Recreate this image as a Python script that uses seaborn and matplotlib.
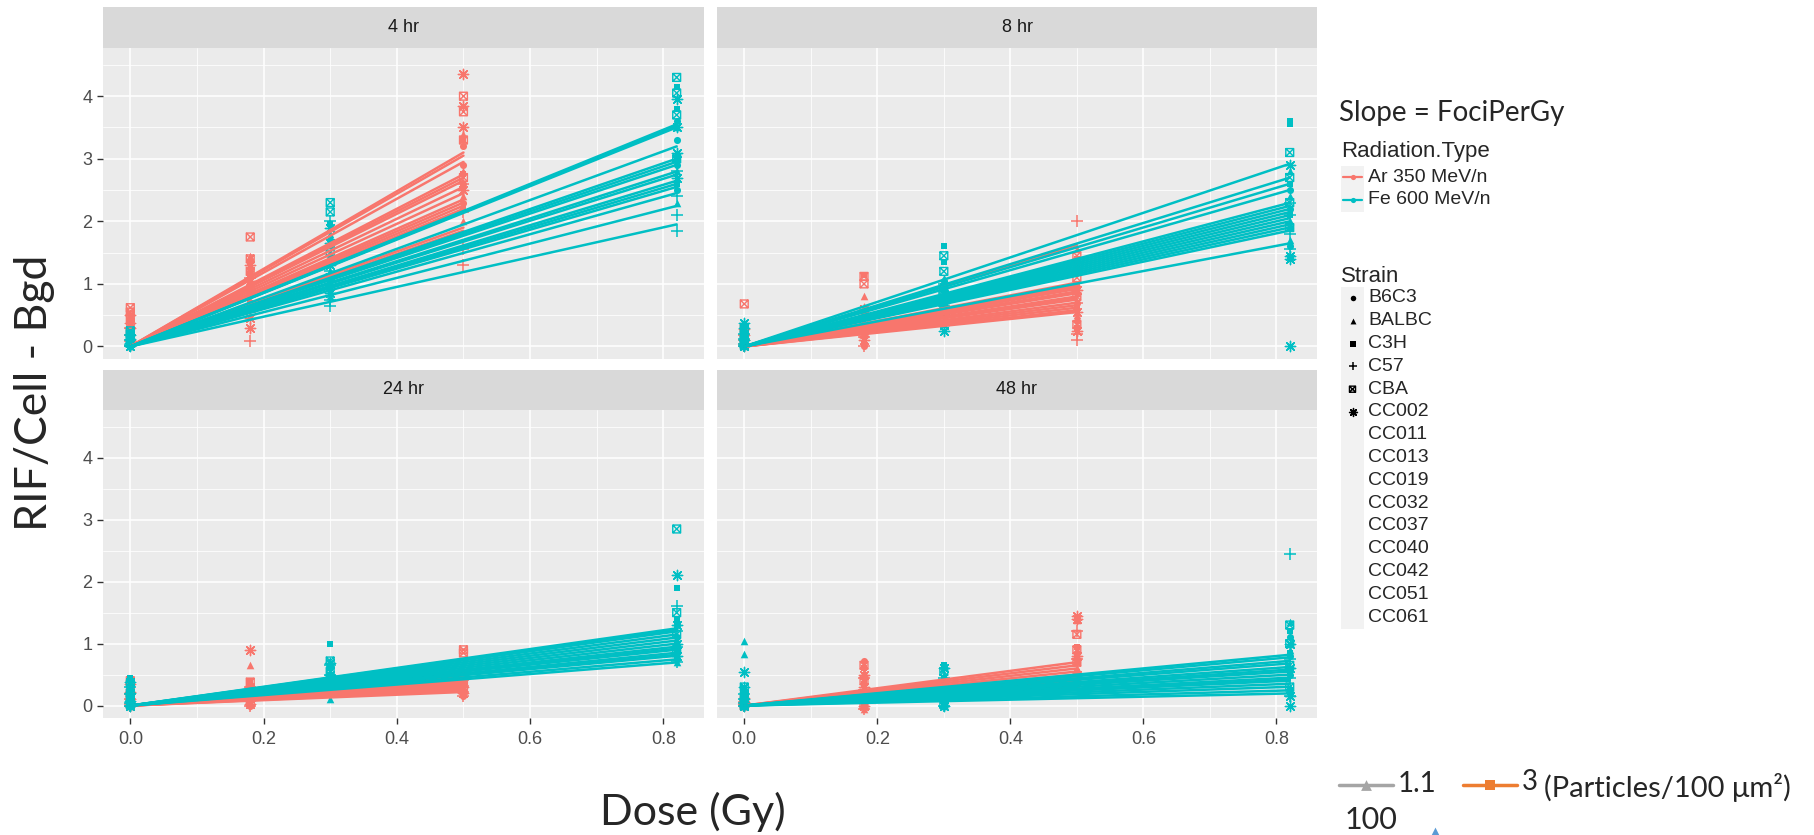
import numpy as np
import pandas as pd
import matplotlib.pyplot as plt
import seaborn as sns
from matplotlib.path import Path
from matplotlib.markers import MarkerStyle
from matplotlib.ticker import MultipleLocator
from matplotlib.patches import Rectangle

# facets, groups, doses
times = ["4 hr", "8 hr", "24 hr", "48 hr"]
radiations = ["Ar 350 MeV/n", "Fe 600 MeV/n"]
strains = ["B6C3", "BALBC", "C3H", "C57", "CBA", "CC002", "CC011", "CC013",
           "CC019", "CC032", "CC037", "CC040", "CC042", "CC051", "CC061"]
ar_doses = [0.0, 0.18, 0.5]
fe_doses = [0.0, 0.3, 0.82]
x_ticks = [0.0, 0.2, 0.4, 0.6, 0.8]
x_tick_labels = ["0.0", "0.2", "0.4", "0.6", "0.8"]
y_ticks = [0, 1, 2, 3, 4]

# fitted slope per strain (FociPerGy)
ar_slope_4hr = [6.2, 6.1, 5.9, 5.5, 5.4, 5.3, 5.1, 4.9, 4.7, 4.6, 4.5, 4.4, 4.3, 3.8, 3.7]
fe_slope_4hr = [4.33, 4.30, 4.27, 3.90, 3.66, 3.60, 3.54, 3.41, 3.35, 3.23, 3.17, 3.11, 2.99, 2.74, 2.38]
ar_slope_8hr = [3.24, 2.04, 1.96, 1.90, 1.84, 1.76, 1.70, 1.60, 1.56, 1.50, 1.40, 1.32, 1.24, 1.16, 1.10]
fe_slope_8hr = [3.56, 3.29, 3.17, 3.05, 2.80, 2.74, 2.68, 2.62, 2.56, 2.50, 2.44, 2.38, 2.32, 2.26, 2.01]
ar_slope_24hr = [1.10, 1.00, 0.96, 0.90, 0.84, 0.80, 0.76, 0.72, 0.68, 0.64, 0.60, 0.56, 0.52, 0.48, 0.44]
fe_slope_24hr = [1.52, 1.49, 1.46, 1.40, 1.34, 1.28, 1.22, 1.16, 1.12, 1.10, 1.04, 1.00, 0.98, 0.91, 0.85]
ar_slope_48hr = [1.40, 1.30, 1.20, 1.10, 1.00, 0.96, 0.90, 0.84, 0.80, 0.76, 0.72, 0.68, 0.64, 0.60, 0.56]
fe_slope_48hr = [1.00, 0.95, 0.88, 0.83, 0.76, 0.71, 0.67, 0.61, 0.55, 0.51, 0.49, 0.43, 0.37, 0.30, 0.24]

# RIF/Cell - Bgd for the six strains that get a shape: [strain][dose][replicate]
ar_rif_4hr = [
    [[0.05, 0.12, 0.2, 0.3], [0.85, 1.0, 1.2, 1.38], [2.3, 2.6, 2.9, 3.2]],
    [[0.0, 0.1, 0.22, 0.35], [0.75, 0.95, 1.3, 1.45], [2.0, 2.4, 2.8, 3.4]],
    [[0.02, 0.15, 0.28, 0.4], [0.7, 0.9, 1.15, 1.35], [2.2, 2.55, 2.75, 3.3]],
    [[0.0, 0.08, 0.18, 0.3], [0.08, 0.55, 0.8, 1.1], [1.3, 1.55, 2.15, 2.6]],
    [[0.2, 0.45, 0.55, 0.62], [0.9, 1.2, 1.4, 1.75], [2.7, 3.3, 3.75, 4.0]],
    [[0.1, 0.3, 0.38, 0.5], [0.3, 0.45, 1.05, 1.3], [2.5, 3.5, 3.85, 4.35]],
]
fe_rif_4hr = [
    [[0.0, 0.05, 0.1, 0.15], [0.9, 1.1, 1.4, 1.7], [2.5, 2.9, 3.3, 3.6]],
    [[0.0, 0.08, 0.12, 0.2], [0.8, 1.2, 1.5, 1.8], [2.3, 2.8, 3.1, 3.5]],
    [[0.0, 0.05, 0.15, 0.22], [1.0, 1.3, 1.6, 1.95], [2.6, 3.0, 3.8, 4.15]],
    [[0.0, 0.03, 0.1, 0.18], [0.65, 0.75, 1.2, 2.0], [1.85, 2.1, 2.4, 2.8]],
    [[0.05, 0.1, 0.2, 0.25], [1.1, 1.5, 2.15, 2.3], [3.0, 3.7, 4.05, 4.3]],
    [[0.0, 0.06, 0.12, 0.18], [0.85, 1.3, 1.65, 1.9], [2.7, 3.1, 3.5, 3.95]],
]
ar_rif_8hr = [
    [[0.0, 0.05, 0.12, 0.2], [0.0, 0.2, 0.35, 0.5], [0.4, 0.7, 0.95, 1.2]],
    [[0.02, 0.1, 0.2, 0.35], [0.1, 0.3, 0.55, 0.8], [0.5, 0.85, 1.2, 1.55]],
    [[0.0, 0.08, 0.15, 0.25], [0.05, 0.25, 0.45, 1.15], [0.3, 0.6, 1.0, 1.4]],
    [[0.0, 0.04, 0.1, 0.18], [0.0, 0.15, 0.3, 0.45], [0.1, 0.2, 0.7, 2.0]],
    [[0.05, 0.15, 0.3, 0.68], [0.2, 0.4, 1.0, 1.12], [0.35, 0.8, 1.1, 1.45]],
    [[0.0, 0.1, 0.18, 0.28], [0.1, 0.3, 0.5, 0.6], [0.25, 0.55, 0.9, 1.3]],
]
fe_rif_8hr = [
    [[0.0, 0.05, 0.1, 0.2], [0.5, 0.7, 0.9, 1.05], [1.6, 1.9, 2.2, 2.5]],
    [[0.0, 0.06, 0.15, 0.25], [0.55, 0.75, 0.95, 1.1], [1.7, 2.0, 2.4, 2.8]],
    [[0.0, 0.1, 0.2, 0.3], [0.6, 0.9, 1.35, 1.6], [2.1, 2.6, 3.55, 3.6]],
    [[0.0, 0.04, 0.12, 0.2], [0.5, 0.65, 0.85, 1.0], [1.55, 1.8, 2.1, 2.3]],
    [[0.02, 0.1, 0.18, 0.28], [0.6, 0.85, 1.2, 1.45], [1.9, 2.3, 2.7, 3.1]],
    [[0.0, 0.1, 0.3, 0.38], [0.25, 0.35, 0.7, 0.95], [0.0, 1.4, 1.45, 2.9]],
]
ar_rif_24hr = [
    [[0.0, 0.05, 0.1, 0.2], [0.0, 0.1, 0.2, 0.3], [0.15, 0.25, 0.35, 0.45]],
    [[0.0, 0.08, 0.15, 0.3], [0.05, 0.15, 0.35, 0.65], [0.2, 0.3, 0.4, 0.5]],
    [[0.0, 0.06, 0.12, 0.25], [0.0, 0.12, 0.25, 0.4], [0.18, 0.28, 0.38, 0.48]],
    [[0.0, 0.03, 0.1, 0.18], [0.0, 0.08, 0.18, 0.3], [0.15, 0.22, 0.32, 0.42]],
    [[0.02, 0.1, 0.2, 0.4], [0.05, 0.15, 0.25, 0.38], [0.25, 0.4, 0.85, 0.9]],
    [[0.0, 0.1, 0.22, 0.35], [0.02, 0.12, 0.3, 0.9], [0.2, 0.3, 0.45, 0.55]],
]
fe_rif_24hr = [
    [[0.0, 0.05, 0.15, 0.25], [0.2, 0.3, 0.45, 0.6], [0.75, 0.9, 1.1, 1.3]],
    [[0.0, 0.08, 0.2, 0.4], [0.1, 0.25, 0.4, 0.55], [0.7, 0.85, 1.05, 1.35]],
    [[0.0, 0.1, 0.25, 0.45], [0.3, 0.45, 0.6, 1.0], [0.8, 1.0, 1.4, 1.9]],
    [[0.0, 0.05, 0.18, 0.3], [0.2, 0.35, 0.5, 0.65], [0.7, 0.95, 1.2, 1.6]],
    [[0.02, 0.1, 0.2, 0.35], [0.25, 0.4, 0.55, 0.72], [0.9, 1.15, 1.5, 2.85]],
    [[0.0, 0.08, 0.2, 0.38], [0.2, 0.35, 0.5, 0.68], [0.8, 1.0, 1.3, 2.1]],
]
ar_rif_48hr = [
    [[0.0, 0.03, 0.06, 0.1], [0.0, 0.2, 0.45, 0.72], [0.35, 0.5, 0.7, 0.85]],
    [[0.0, 0.02, 0.05, 0.1], [-0.05, 0.1, 0.3, 0.55], [0.4, 0.6, 0.9, 1.38]],
    [[0.0, 0.02, 0.04, 0.08], [0.0, 0.15, 0.35, 0.6], [0.3, 0.55, 0.8, 0.95]],
    [[0.0, 0.01, 0.03, 0.06], [-0.05, 0.05, 0.25, 0.45], [0.35, 0.5, 0.75, 1.2]],
    [[0.0, 0.02, 0.05, 0.1], [0.0, 0.2, 0.4, 0.65], [0.45, 0.7, 0.9, 1.15]],
    [[0.0, 0.03, 0.06, 0.12], [0.0, 0.12, 0.3, 0.5], [0.5, 0.8, 1.4, 1.45]],
]
fe_rif_48hr = [
    [[0.0, 0.05, 0.12, 0.2], [0.0, 0.1, 0.25, 0.4], [0.2, 0.5, 0.8, 1.1]],
    [[0.0, 0.1, 0.83, 1.05], [0.0, 0.15, 0.3, 0.5], [0.3, 0.6, 0.9, 1.35]],
    [[0.0, 0.06, 0.15, 0.28], [0.05, 0.2, 0.45, 0.65], [0.25, 0.55, 0.85, 1.2]],
    [[0.0, 0.04, 0.1, 0.18], [0.0, 0.12, 0.28, 0.45], [0.15, 0.45, 0.75, 2.45]],
    [[0.0, 0.05, 0.15, 0.3], [0.02, 0.15, 0.35, 0.55], [0.3, 0.65, 1.0, 1.3]],
    [[0.0, 0.1, 0.3, 0.55], [0.0, 0.1, 0.2, 0.6], [0.0, 0.15, 0.6, 1.0]],
]

slopes = {
    ("4 hr", radiations[0]): ar_slope_4hr, ("4 hr", radiations[1]): fe_slope_4hr,
    ("8 hr", radiations[0]): ar_slope_8hr, ("8 hr", radiations[1]): fe_slope_8hr,
    ("24 hr", radiations[0]): ar_slope_24hr, ("24 hr", radiations[1]): fe_slope_24hr,
    ("48 hr", radiations[0]): ar_slope_48hr, ("48 hr", radiations[1]): fe_slope_48hr,
}
rif = {
    ("4 hr", radiations[0]): ar_rif_4hr, ("4 hr", radiations[1]): fe_rif_4hr,
    ("8 hr", radiations[0]): ar_rif_8hr, ("8 hr", radiations[1]): fe_rif_8hr,
    ("24 hr", radiations[0]): ar_rif_24hr, ("24 hr", radiations[1]): fe_rif_24hr,
    ("48 hr", radiations[0]): ar_rif_48hr, ("48 hr", radiations[1]): fe_rif_48hr,
}
doses = {radiations[0]: ar_doses, radiations[1]: fe_doses}

line_rows, pt_rows = [], []
for (t, rad), sl in slopes.items():
    for strain, k in zip(strains, sl):
        for d in doses[rad]:
            line_rows.append((t, rad, strain, d, k * d))
for (t, rad), per_strain in rif.items():
    for strain, per_dose in zip(strains, per_strain):
        for d, vals in zip(doses[rad], per_dose):
            for v in vals:
                pt_rows.append((t, rad, strain, d, v))
lines = pd.DataFrame(line_rows, columns=["time", "radiation", "strain", "dose", "fit"])
pts = pd.DataFrame(pt_rows, columns=["time", "radiation", "strain", "dose", "rif"])

pal = {radiations[0]: "#F8766D", radiations[1]: "#00BFC4"}

# ggplot-like shapes
box_x = Path([(-1, -1), (1, -1), (1, 1), (-1, 1), (-1, -1), (-1, -1), (1, 1), (-1, 1), (1, -1)],
             [Path.MOVETO, Path.LINETO, Path.LINETO, Path.LINETO, Path.CLOSEPOLY,
              Path.MOVETO, Path.LINETO, Path.MOVETO, Path.LINETO])
shape_kw = {
    "B6C3": dict(marker="o", s=26, linewidth=0),
    "BALBC": dict(marker="^", s=30, linewidth=0),
    "C3H": dict(marker="s", s=24, linewidth=0),
    "C57": dict(marker="+", s=65, linewidth=1.1),
    "CBA": dict(marker=MarkerStyle(box_x, fillstyle="none"), s=32, linewidth=1.0),
    "CC002": dict(marker=(8, 2, 0), s=55, linewidth=1.0),
}

sns.set_theme(style="darkgrid")
plt.rcParams["font.family"] = ["Liberation Sans", "DejaVu Sans"]

W, H = 1814, 835
fig = plt.figure(figsize=(W / 100, H / 100), dpi=100)
fig.patch.set_facecolor("white")


def box(l, t, r, b):
    return [l / W, 1 - b / H, (r - l) / W, (b - t) / H]


panel_px = {"4 hr": (103, 48, 704, 359), "8 hr": (717, 48, 1317, 359),
            "24 hr": (103, 410, 704, 718), "48 hr": (717, 410, 1317, 718)}
strip_px = {"4 hr": (103, 7, 704, 48), "8 hr": (717, 7, 1317, 48),
            "24 hr": (103, 370, 704, 410), "48 hr": (717, 370, 1317, 410)}

for i, t in enumerate(times):
    ax = fig.add_axes(box(*panel_px[t]))
    ax.set_facecolor("#EBEBEB")
    for rad in radiations:
        sub = pts[(pts.time == t) & (pts.radiation == rad)]
        for strain, kw in shape_kw.items():
            sns.scatterplot(data=sub[sub.strain == strain], x="dose", y="rif",
                            color=pal[rad], ax=ax, legend=False, **kw)
    sns.lineplot(data=lines[lines.time == t], x="dose", y="fit", hue="radiation",
                 hue_order=radiations, palette=pal, units="strain", estimator=None,
                 linewidth=1.8, legend=False, ax=ax)
    ax.set_xlim(-0.041, 0.861)
    ax.set_ylim(-0.2, 4.77)
    ax.set_xticks(x_ticks)
    ax.set_xticklabels(x_tick_labels)
    ax.set_yticks(y_ticks)
    ax.xaxis.set_minor_locator(MultipleLocator(0.1))
    ax.yaxis.set_minor_locator(MultipleLocator(0.5))
    ax.grid(True, which="major", color="white", linewidth=1.1)
    ax.grid(True, which="minor", color="white", linewidth=0.55)
    ax.set_axisbelow(True)
    for sp in ax.spines.values():
        sp.set_visible(False)
    ax.set_xlabel("")
    ax.set_ylabel("")
    bottom = i >= 2
    left = i % 2 == 0
    ax.tick_params(axis="x", which="major", bottom=bottom, labelbottom=bottom,
                   length=4.5, width=1, color="#333333", labelcolor="#4D4D4D",
                   labelsize=13, pad=5)
    ax.tick_params(axis="y", which="major", left=left, labelleft=left,
                   length=4.5, width=1, color="#333333", labelcolor="#4D4D4D",
                   labelsize=13, pad=3)
    ax.tick_params(which="minor", bottom=False, left=False)

    sax = fig.add_axes(box(*strip_px[t]))
    sax.set_facecolor("#D9D9D9")
    sax.set_xticks([])
    sax.set_yticks([])
    for sp in sax.spines.values():
        sp.set_visible(False)
    sax.grid(False)
    sax.text(0.5, 0.5, t, ha="center", va="center", fontsize=13, color="#1A1A1A",
             transform=sax.transAxes)

# slide titles
fig.text(35 / W, 1 - 393 / H, "RIF/Cell - Bgd", rotation=90, ha="center", va="center",
         fontsize=32, family=["Lato", "DejaVu Sans"])
fig.text(693 / W, 1 - 812 / H, "Dose (Gy)", ha="center", va="center",
         fontsize=31, family=["Lato", "DejaVu Sans"])

# legend drawn in pixel space
lax = fig.add_axes([0, 0, 1, 1])
lax.set_xlim(0, W)
lax.set_ylim(H, 0)
lax.axis("off")

lax.text(1339, 113, "Slope = FociPerGy", ha="left", va="center", fontsize=20,
         family=["Lato", "DejaVu Sans"])
lax.text(1341, 152, "Radiation.Type", ha="left", va="center", fontsize=16)
key_w = 23
for j, rad in enumerate(radiations):
    yc = 177 + j * 23
    lax.add_patch(Rectangle((1341, yc - 11.5), key_w, 23, color="#F2F2F2", lw=0))
    lax.plot([1343, 1362], [yc, yc], color=pal[rad], lw=1.6)
    lax.scatter([1352.5], [yc], s=14, color=pal[rad], lw=0)
    lax.text(1368, yc, rad, ha="left", va="center", fontsize=14)

lax.text(1341, 276, "Strain", ha="left", va="center", fontsize=16)
for j, strain in enumerate(strains):
    yc = 298 + j * 22.8
    lax.add_patch(Rectangle((1341, yc - 11.4), key_w, 22.8, color="#F2F2F2", lw=0))
    if strain in shape_kw:
        kw = dict(shape_kw[strain])
        kw["s"] = kw["s"] * 0.6
        lax.scatter([1352.5], [yc], color="black", **kw)
    lax.text(1368, yc, strain, ha="left", va="center", fontsize=14)

# fragment of another slide chart at the lower right
lax.plot([1339, 1393], [785, 785], color="#A5A5A5", lw=2.5)
lax.scatter([1366], [785], marker="^", s=60, color="#A5A5A5", lw=0)
lax.text(1398, 784, "1.1", ha="left", va="center", fontsize=20, family=["Lato", "DejaVu Sans"])
lax.plot([1463, 1517], [785, 785], color="#ED7D31", lw=2.5)
lax.scatter([1490], [785], marker="s", s=50, color="#ED7D31", lw=0)
lax.text(1522, 782, "3", ha="left", va="center", fontsize=20, family=["Lato", "DejaVu Sans"])
lax.text(1544, 787, "(Particles/100 μm²)", ha="left", va="center", fontsize=21,
         family=["Lato", "DejaVu Sans"])
lax.text(1345, 806, "100", ha="left", va="top", fontsize=22, family=["Lato", "DejaVu Sans"])
lax.scatter([1435], [835], marker="^", s=130, color="#5B9BD5", lw=0)

fig.savefig("out.png", dpi=100)
